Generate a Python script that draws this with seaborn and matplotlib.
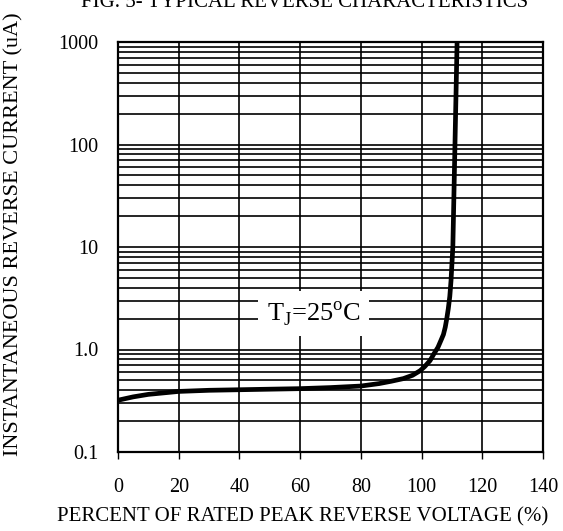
import numpy as np
import pandas as pd
import matplotlib
matplotlib.use("Agg")
import matplotlib.pyplot as plt
import seaborn as sns
from matplotlib.ticker import FixedLocator, FixedFormatter, LogLocator, NullFormatter

# Data
voltage_pct = [0, 5, 10, 20, 30, 40, 50, 60, 70, 80, 86, 90, 94, 97, 99.5,
               101, 102.8, 104, 105.4, 106.5, 107.2, 107.8, 108.3, 108.8,
               109.3, 109.7, 110.3, 111.0, 111.7]
current_ua = [0.32, 0.345, 0.365, 0.39, 0.40, 0.405, 0.41, 0.415, 0.425, 0.44,
              0.465, 0.49, 0.52, 0.56, 0.62, 0.68, 0.78, 0.9, 1.05, 1.25,
              1.4, 1.65, 2.0, 2.5, 3.3, 4.7, 10, 100, 1000]
x_ticks = [0, 20, 40, 60, 80, 100, 120, 140]
y_ticks = [0.1, 1.0, 10, 100, 1000]
y_tick_labels = ["0.1", "1.0", "10", "100", "1000"]

df = pd.DataFrame({"v": voltage_pct, "i": current_ua})

sns.set_theme(style="white")
plt.rcParams["font.family"] = ["Liberation Serif", "DejaVu Serif"]
plt.rcParams["mathtext.fontset"] = "custom"
plt.rcParams["mathtext.rm"] = "Liberation Serif"

fig = plt.figure(figsize=(5.63, 5.31), dpi=100)
ax = fig.add_axes([118/563, 1-452/531, 425/563, 410/531])

sns.lineplot(data=df, x="v", y="i", ax=ax, color="black", linewidth=3.4,
             sort=False, zorder=5)

ax.set_yscale("log")
ax.set_xlim(0, 140)
ax.set_ylim(0.1, 1000)
ax.xaxis.set_major_locator(FixedLocator(x_ticks))
ax.yaxis.set_major_locator(FixedLocator(y_ticks))
ax.yaxis.set_major_formatter(FixedFormatter(y_tick_labels))
ax.yaxis.set_minor_locator(LogLocator(base=10, subs=np.arange(2, 10)))
ax.yaxis.set_minor_formatter(NullFormatter())

ax.grid(which="both", axis="both", color="black", linewidth=1.2)
ax.set_axisbelow(True)
for s in ax.spines.values():
    s.set_color("black")
    s.set_linewidth(1.6)

ax.tick_params(axis="x", which="major", direction="out", length=5, width=1,
               color="black", labelsize=14.5, pad=14, bottom=True)
ax.tick_params(axis="y", which="both", length=0, labelsize=14.5, pad=14)
for lab in ax.get_xticklabels() + ax.get_yticklabels():
    lab.set_color("black")

ax.set_xlabel("")
ax.set_ylabel("")
fig.text(0.5 * (57 + 548) / 563, 1 - 517/531,
         "PERCENT OF RATED PEAK REVERSE VOLTAGE (%)",
         ha="center", va="center", fontsize=15.0, color="black")
fig.text(14/563, 1 - 234/531, "INSTANTANEOUS REVERSE CURRENT (uA)",
         rotation=90, ha="center", va="center", fontsize=16.0, color="black")
fig.text(305/563, 1 - 7/531, "FIG. 5- TYPICAL REVERSE CHARACTERISTICS",
         ha="center", va="baseline", fontsize=15.0, color="black")

ax.text(64.5, 2.25, r"T$_\mathrm{J}$=25$^\mathrm{o}$C", ha="center", va="center",
        fontsize=19, color="black", zorder=4,
        bbox=dict(facecolor="white", edgecolor="none", pad=6))

fig.savefig("out.png", dpi=100)
